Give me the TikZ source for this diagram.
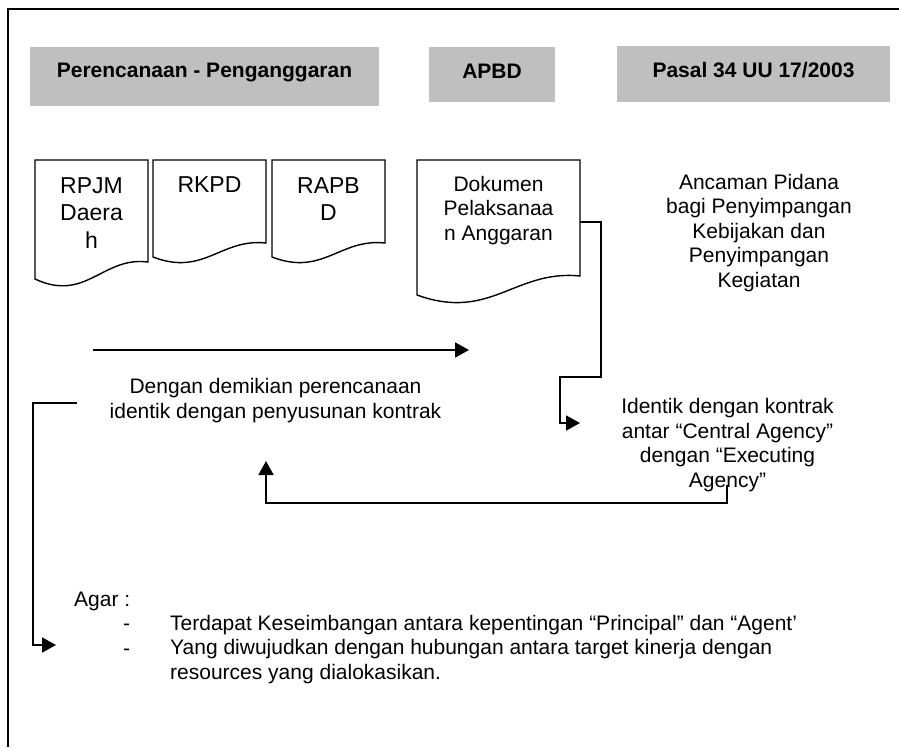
\documentclass[tikz,border=0pt]{standalone}
\usepackage{fontspec}
\setmainfont{Liberation Sans}
\usetikzlibrary{arrows.meta}

% sheet with a wavy lower edge: left, right, top, lower-left, lower-right
\newcommand{\docsheet}[5]{%
  \draw[sheet] (#1,#4) -- (#1,#3) -- (#2,#3) -- (#2,#5)
    .. controls ({#1+0.6*(#2-#1)},{#5-0.35*(#4-#5)}) and ({#1+0.45*(#2-#1)},{#4+1.4*(#4-#5)}) .. (#1,#4) -- cycle;}

\begin{document}
\begin{tikzpicture}[x=1pt, y=-1pt,
    txt/.style={font=\fontsize{21}{24.5}\selectfont, align=center, inner sep=0pt, anchor=base},
    bigtxt/.style={txt, font=\fontsize{23}{27.5}\selectfont},
    headbox/.style={fill=black!25, inner sep=0pt, font=\fontsize{21}{25}\selectfont\bfseries},
    sheet/.style={line width=1.4pt, line join=miter},
    flow/.style={line width=1.8pt, -{Triangle[length=14pt, width=15pt]}}]
    \useasboundingbox (0,0) rectangle (899,747);
    \draw[line width=2pt] (8,747) -- (8,9) -- (899,9);

    \node (plan) [headbox, minimum width=349pt, text height=30pt, text depth=29pt] at (204.5,76.5) {Perencanaan - Penganggaran};
    \node (apbd) [headbox, minimum width=126pt, text height=31pt, text depth=24pt] at (492,74.5) {APBD};
    \node (pasal) [headbox, minimum width=273pt, text height=31pt, text depth=25pt] at (753.5,74) {Pasal 34 UU 17/2003};

    \docsheet{35}{148}{160}{279}{262}
    \docsheet{153}{266}{160}{257}{243}
    \docsheet{272}{385}{160}{257}{243}
    \docsheet{417}{580}{160}{295}{276}

    % multi-line texts sit on the baseline of their last line
    \node (rpjm) [bigtxt] at (91.5,248) {RPJM\\Daera\\h};
    \node (rkpd) [bigtxt] at (209.5,192) {RKPD};
    \node (rapbd) [bigtxt] at (328.5,220.5) {RAPB\\D};
    \node (dpa) [txt] at (498.5,240) {Dokumen\\Pelaksanaa\\n Anggaran};
    \node (pidana) [txt] at (759,287) {Ancaman Pidana\\bagi Penyimpangan\\Kebijakan dan\\Penyimpangan\\Kegiatan};
    \node (kontrak) [txt] at (275.5,418) {Dengan demikian perencanaan\\identik dengan penyusunan kontrak};
    \node (agency) [txt] at (727.5,487) {Identik dengan kontrak\\antar “Central Agency”\\dengan “Executing\\Agency”};

    \node (agar) [txt, anchor=base west] at (74,606) {Agar :};
    \node (dash1) [txt, anchor=base west] at (123,630) {-};
    \node (dash2) [txt, anchor=base west] at (123,655) {-};
    \node (goal1) [txt, anchor=base west, align=left] at (170,630) {Terdapat Keseimbangan antara kepentingan “Principal” dan “Agent’};
    \node (goal2) [txt, anchor=base west, align=left] at (170,679) {Yang diwujudkan dengan hubungan antara target kinerja dengan\\resources yang dialokasikan.};

    \coordinate (flowA) at (93,350);
    \coordinate (flowB) at (469,350);
    \coordinate (dpaout) at (580,222);
    \coordinate (dpaend) at (580,423);
    \coordinate (backA) at (727,485);
    \coordinate (backB) at (266,461);
    \coordinate (leftA) at (77,403);
    \coordinate (leftB) at (56,645);

    \draw[flow] (flowA) -- (flowB);
    \draw[flow] (dpaout) -| (601,377) -| (560,423) -- (dpaend);
    \draw[flow] (backA) -- ++(0,18) -| (backB);
    \draw[flow] (leftA) -- (33,403) |- (leftB);
\end{tikzpicture}
\end{document}
